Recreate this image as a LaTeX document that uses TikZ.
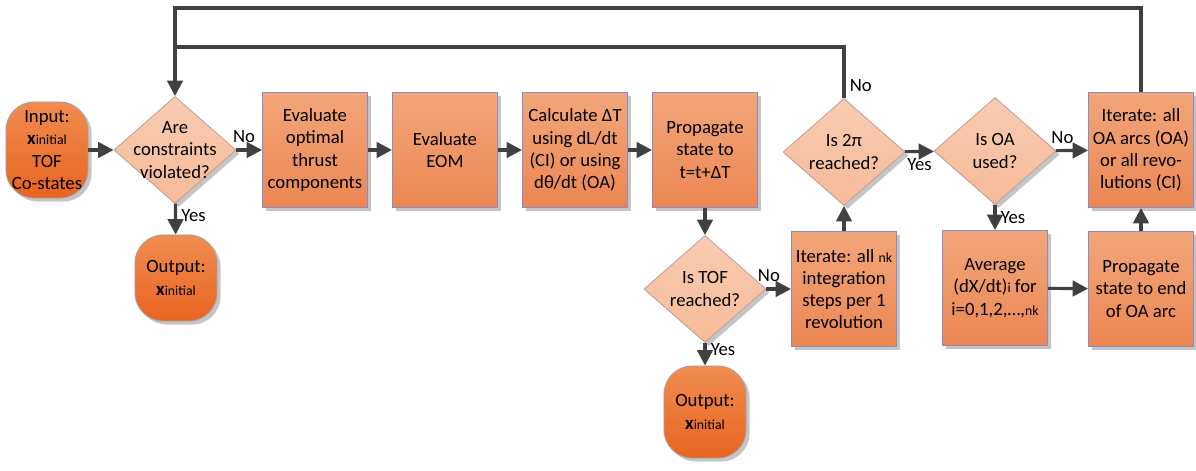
\documentclass[tikz,border=0pt]{standalone}
\usepackage{fontspec}
\setmainfont{Carlito}
\usetikzlibrary{shapes.geometric,arrows.meta,shadows}

\definecolor{linegray}{RGB}{64,64,64}
\definecolor{boxtop}{RGB}{242,166,122}
\definecolor{boxbot}{RGB}{236,134,82}
\definecolor{boxedge}{RGB}{140,140,190}
\definecolor{dectop}{RGB}{249,204,178}
\definecolor{decbot}{RGB}{246,186,152}
\definecolor{decedge}{RGB}{190,160,150}
\definecolor{termtop}{RGB}{241,140,80}
\definecolor{termbot}{RGB}{232,100,32}
\definecolor{termedge}{RGB}{170,160,160}

\newcommand{\xinit}{\textbf{x}{\fontsize{9.8}{10}\selectfont initial}}
\newcommand{\sml}[1]{{\fontsize{9.8}{10}\selectfont #1}}

\begin{document}
\begin{tikzpicture}[x=0.025cm, y=-0.025cm,
  font=\fontsize{13.3}{15.8}\selectfont,
  shade/.style={drop shadow={shadow xshift=2.5pt, shadow yshift=-2.5pt, fill=black!45, opacity=0.5}},
  process/.style={shade, draw=boxedge, line width=0.6pt, top color=boxtop, bottom color=boxbot,
    minimum width=2.625cm, minimum height=2.875cm, align=center, inner sep=1pt},
  decision/.style={shade, diamond, draw=decedge, line width=0.6pt, top color=dectop, bottom color=decbot,
    minimum width=3.05cm, minimum height=2.675cm, inner sep=-12pt, align=center},
  terminal/.style={shade, rounded corners=20pt, draw=termedge, line width=0.6pt, top color=termtop,
    bottom color=termbot, minimum width=2.05cm, align=center, inner sep=1pt},
  link/.style={draw=linegray, line width=2.2pt},
  flow/.style={link, -{Triangle[length=11pt,width=11pt]}},
  lbl/.style={inner sep=1pt}
]
\useasboundingbox (0,0) rectangle (1196,471);

% top row
\node[terminal, minimum height=2.4cm] (input) at (47,150) {Input:\\\xinit\\TOF\\Co-states};
\node[decision] (cons) at (175,150) {Are\\constraints\\violated?};
\node[terminal, minimum height=2.15cm] (out1) at (176,278) {Output:\\\xinit};
\node[process] (thrust) at (315,150) {Evaluate\\optimal\\thrust\\components};
\node[process] (eom) at (445,150) {Evaluate\\EOM};
\node[process] (dt) at (575,150) {Calculate ΔT\\using dL/dt\\(CI) or using\\dθ/dt (OA)};
\node[process] (prop) at (705,150) {Propagate\\state to\\t=t+ΔT};
\node[decision] (twopi) at (844,152) {Is 2π\\reached?};
\node[decision] (oa) at (995,151) {Is OA\\used?};
\node[process] (iterOA) at (1141,150) {Iterate: all\\OA arcs (OA)\\or all revo-\\lutions (CI)};

% bottom row
\node[decision] (tof) at (705,289) {Is TOF\\reached?};
\node[terminal, minimum height=2.3cm] (out2) at (705,412) {Output:\\\xinit};
\node[process] (iterN) at (844,289) {Iterate: all \sml{nk}\\integration\\steps per 1\\revolution};
\node[process] (avg) at (995,288) {Average\\(dX/dt)\sml{i} for\\i=0,1,2,…,\sml{nk}};
\node[process] (propOA) at (1141,289) {Propagate\\state to end\\of OA arc};

\coordinate (top1) at (175,8);
\coordinate (top2) at (175,47);

% connectors
\draw[flow] (input) -- (cons);
\draw[flow] (cons) -- node[lbl, pos=0.3, above=3pt] {No} (thrust);
\draw[flow] (cons) -- node[lbl, pos=0.4, right=2pt] {Yes} (out1);
\draw[flow] (thrust) -- (eom);
\draw[flow] (eom) -- (dt);
\draw[flow] (dt) -- (prop);
\draw[flow] (prop) -- (tof);
\draw[flow] (tof) -- node[lbl, pos=0.1, above=3pt] {No} (iterN);
\draw[flow] (tof) -- node[lbl, pos=0.3, right=2pt] {Yes} (out2);
\draw[flow] (iterN) -- (twopi);
\draw[flow] (twopi) -- node[lbl, pos=0.5, below=3pt] {Yes} (oa);
\draw[flow] (oa) -- node[lbl, pos=0.2, above=3pt] {No} (iterOA);
\draw[flow] (oa) -- node[lbl, pos=0.5, right=2pt] {Yes} (avg);
\draw[flow] (avg) -- (propOA);
\draw[flow] (propOA) -- (iterOA);
\draw[flow] (iterOA.north) |- (top1) -- (cons.north);
\draw[link] (twopi.north) -- node[lbl, pos=0.25, right=2pt] {No} (twopi.north |- top2) -- (top2);
\end{tikzpicture}
\end{document}
